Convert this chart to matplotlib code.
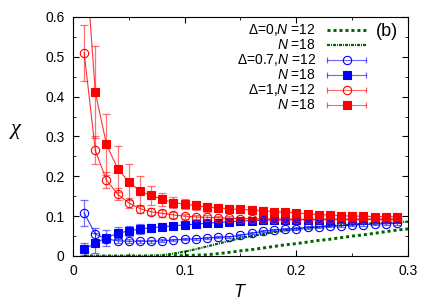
import matplotlib
matplotlib.use("Agg")
import matplotlib.pyplot as plt
import numpy as np

plt.rcParams.update({'font.family': 'Liberation Sans', 'font.size': 10,
                     'mathtext.fontset': 'custom', 'mathtext.rm': 'Liberation Sans',
                     'mathtext.it': 'Liberation Sans:italic'})

# exact diagonalisation, Delta = 0
T_ed = [0.01, 0.02, 0.03, 0.04, 0.05, 0.06, 0.07, 0.08, 0.09, 0.10,
        0.11, 0.12, 0.13, 0.14, 0.15, 0.16, 0.17, 0.18, 0.19, 0.20,
        0.21, 0.22, 0.23, 0.24, 0.25, 0.26, 0.27, 0.28, 0.29, 0.30]
chi_d0_n12 = [0, 0, 0, 0, 0, 0, 0, 0, 0.0005, 0.001,
              0.002, 0.003, 0.006, 0.009, 0.013, 0.016, 0.020, 0.024, 0.028, 0.031,
              0.035, 0.039, 0.042, 0.046, 0.050, 0.053, 0.057, 0.061, 0.065, 0.068]
chi_d0_n18 = [0, 0, 0, 0, 0, 0, 0.0005, 0.002, 0.006, 0.011,
              0.017, 0.024, 0.031, 0.038, 0.045, 0.050, 0.055, 0.060, 0.064, 0.067,
              0.070, 0.073, 0.075, 0.077, 0.079, 0.081, 0.082, 0.084, 0.085, 0.086]

# QMC points
T = [0.01, 0.02, 0.03, 0.04, 0.05, 0.06, 0.07, 0.08, 0.09, 0.10,
     0.11, 0.12, 0.13, 0.14, 0.15, 0.16, 0.17, 0.18, 0.19, 0.20,
     0.21, 0.22, 0.23, 0.24, 0.25, 0.26, 0.27, 0.28, 0.29]

chi_d07_n12 = [0.108, 0.055, 0.043, 0.038, 0.037, 0.037, 0.037, 0.038, 0.040, 0.042,
               0.043, 0.045, 0.047, 0.048, 0.052, 0.057, 0.062, 0.065, 0.0675, 0.069,
               0.072, 0.073, 0.075, 0.076, 0.078, 0.079, 0.080, 0.081, 0.082]
err_d07_n12 = [0.033, 0.015, 0.010, 0.006, 0.005, 0.004, 0.004, 0.004, 0.003, 0.003,
               0.003, 0.003, 0.003, 0.003, 0.003, 0.003, 0.003, 0.003, 0.003, 0.003,
               0.003, 0.003, 0.003, 0.003, 0.003, 0.003, 0.003, 0.003, 0.003]

chi_d07_n18 = [0.017, 0.032, 0.046, 0.057, 0.063, 0.0675, 0.071, 0.073, 0.076, 0.078,
               0.080, 0.0825, 0.084, 0.086, 0.0875, 0.089, 0.090, 0.0905, 0.091, 0.091,
               0.091, 0.0915, 0.0915, 0.092, 0.092, 0.092, 0.092, 0.092, 0.092]
err_d07_n18 = [0.015, 0.025, 0.020, 0.015, 0.013, 0.012, 0.010, 0.008, 0.008, 0.007,
               0.006, 0.006, 0.005, 0.005, 0.005, 0.005, 0.004, 0.004, 0.004, 0.004,
               0.004, 0.004, 0.004, 0.004, 0.004, 0.004, 0.004, 0.004, 0.004]

chi_d1_n12 = [0.51, 0.265, 0.19, 0.155, 0.133, 0.119, 0.111, 0.107, 0.103, 0.100,
              0.098, 0.097, 0.096, 0.095, 0.094, 0.094, 0.093, 0.093, 0.093, 0.092,
              0.092, 0.092, 0.092, 0.092, 0.092, 0.092, 0.092, 0.092, 0.092]
err_d1_n12 = [0.07, 0.035, 0.02, 0.015, 0.012, 0.010, 0.009, 0.008, 0.007, 0.006,
              0.006, 0.005, 0.005, 0.005, 0.005, 0.004, 0.004, 0.004, 0.004, 0.004,
              0.004, 0.004, 0.004, 0.004, 0.004, 0.004, 0.004, 0.004, 0.004]

chi_d1_n18 = [0.80, 0.411, 0.28, 0.219, 0.186, 0.163, 0.152, 0.142, 0.134, 0.130,
              0.127, 0.122, 0.121, 0.118, 0.117, 0.1155, 0.114, 0.111, 0.110, 0.108,
              0.1055, 0.104, 0.103, 0.101, 0.1005, 0.0997, 0.099, 0.099, 0.098]
err_d1_n18 = [0.15, 0.115, 0.077, 0.058, 0.045, 0.037, 0.024, 0.016, 0.014, 0.013,
              0.012, 0.011, 0.010, 0.010, 0.009, 0.009, 0.008, 0.008, 0.008, 0.007,
              0.007, 0.007, 0.006, 0.006, 0.006, 0.006, 0.006, 0.006, 0.006]

green = '#006400'
fig = plt.figure(figsize=(4.36, 3.05), dpi=100)
ax = fig.add_axes([0.1674, 0.1607, 0.7684, 0.7836])

lw12, dash12 = 2.1, (0, (1.05, 1.0))
lw18, dash18 = 1.6, (0, (1.35, 0.45, 0.45, 0.45))
ax.plot(T_ed, chi_d0_n12, color=green, lw=lw12, ls=dash12)
ax.plot(T_ed, chi_d0_n18, color=green, lw=lw18, ls=dash18)

def series(y, e, color, filled, ms):
    ax.errorbar(T, y, yerr=e, fmt='none', ecolor=color, alpha=0.55,
                elinewidth=0.9, capsize=2.6, capthick=0.9)
    ax.plot(T, y, color=color, lw=0.8, alpha=0.8)
    ax.plot(T, y, ls='none', marker='s' if filled else 'o', ms=ms,
            mfc=color if filled else 'none', mec=color, mew=0.8)

series(chi_d07_n12, err_d07_n12, 'blue', False, 6.0)
series(chi_d07_n18, err_d07_n18, 'blue', True, 5.2)
series(chi_d1_n12, err_d1_n12, 'red', False, 6.0)
series(chi_d1_n18, err_d1_n18, 'red', True, 5.2)

ax.set_xlim(0, 0.3)
ax.set_ylim(0, 0.6)
ax.set_xticks([0, 0.1, 0.2, 0.3])
ax.set_xticklabels(['0', '0.1', '0.2', '0.3'])
ax.set_xticks(np.arange(0, 0.31, 0.05), minor=True)
ax.set_yticks([0, 0.1, 0.2, 0.3, 0.4, 0.5, 0.6])
ax.set_yticklabels(['0', '0.1', '0.2', '0.3', '0.4', '0.5', '0.6'])
ax.set_yticks(np.arange(0, 0.61, 0.05), minor=True)
ax.tick_params(which='both', direction='in', top=True, right=True, labelsize=10)
ax.tick_params(which='major', length=4, pad=6)
ax.tick_params(which='minor', length=2)
ax.set_xlabel('$T$', fontsize=13, labelpad=4)
ax.set_ylabel('χ', fontsize=16, rotation=0, family='Liberation Serif', style='italic')
ax.yaxis.set_label_coords(-0.17, 0.49)

# legend, drawn gnuplot style
labels = [r'$\Delta$=0,$N$ =12', r'$N$ =18', r'$\Delta$=0.7,$N$ =12',
          r'$N$ =18', r'$\Delta$=1,$N$ =12', r'$N$ =18']
rows = [0.946, 0.883, 0.820, 0.758, 0.695, 0.632]
x0, x1, xm = 0.758, 0.875, 0.8165
for lab, yy in zip(labels, rows):
    ax.text(0.725, yy, lab, transform=ax.transAxes, ha='right', va='center', fontsize=10)
ax.plot([x0, x1], [rows[0]] * 2, transform=ax.transAxes, color=green, lw=lw12, ls=dash12, clip_on=False)
ax.plot([x0, x1], [rows[1]] * 2, transform=ax.transAxes, color=green, lw=lw18, ls=dash18, clip_on=False)
for yy, color, filled in zip(rows[2:], ['blue', 'blue', 'red', 'red'], [False, True, False, True]):
    ax.plot([x0, x1], [yy, yy], transform=ax.transAxes, color=color, lw=0.8, alpha=0.6)
    ax.plot([x0, x1], [yy, yy], transform=ax.transAxes, ls='none', marker='|', ms=4,
            mew=0.9, color=color, alpha=0.6)
    ax.plot([xm], [yy], transform=ax.transAxes, ls='none', marker='s' if filled else 'o',
            ms=5.2 if filled else 6.0, mfc=color if filled else 'none', mec=color, mew=0.8)

ax.text(0.936, 0.938, '(b)', transform=ax.transAxes, ha='center', va='center', fontsize=13)

fig.savefig('out.png', dpi=100)
